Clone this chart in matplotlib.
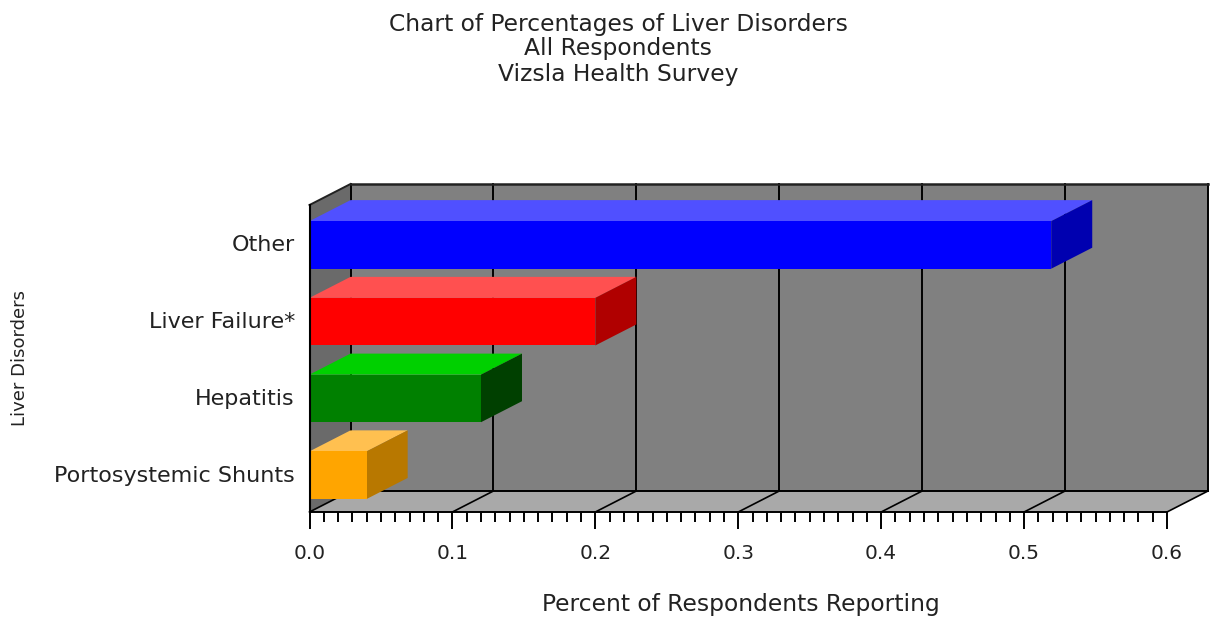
import matplotlib
matplotlib.use('Agg')
from matplotlib import pyplot as plt
from matplotlib.patches import Polygon
from matplotlib.transforms import Affine2D

plt.rcParams['font.family'] = ['DejaVu Sans']

categories = ['Portosystemic Shunts', 'Hepatitis', 'Liver Failure*', 'Other']
values = [0.04, 0.12, 0.2, 0.519]
front_colors = ['#ffa500', '#008000', '#ff0000', '#0000ff']
top_colors = ['#ffc050', '#00d000', '#ff5050', '#5050ff']
side_colors = ['#b87800', '#004000', '#b00000', '#0000b0']
title_lines = ['Chart of Percentages of Liver Disorders', 'All Respondents', 'Vizsla Health Survey']
x_ticks = [0.0, 0.1, 0.2, 0.3, 0.4, 0.5, 0.6]

W, H = 1210, 618
dx, dy = 41, 21      # depth of the fake 3d box, pixels
bar_h = 0.62
text_color = '#222222'
fig = plt.figure(figsize=(W / 100, H / 100), dpi=100)

# axes is the front plane of the box
left, right, top, bottom = 309.5, 1167, 205, 512
ax = fig.add_axes([left / W, 1 - bottom / H, (right - left) / W, (bottom - top) / H])
ax.set_xlim(0, 0.6)
ax.set_ylim(0, 4)
ax.patch.set_visible(False)
for name in ['top', 'right', 'bottom']:
    ax.spines[name].set_visible(False)
ax.spines['left'].set_linewidth(1.5)

back = Affine2D().translate(dx, dy)
to_back = ax.transData + back


def poly(points, color, trans=None, z=1, edge='none'):
    ax.add_patch(Polygon(points, closed=True, facecolor=color, edgecolor=edge, linewidth=0.8,
                         transform=trans or ax.transData, clip_on=False, zorder=z))


def shifted(x, y):
    # data point moved to the back plane, given back in data units
    return ax.transData.inverted().transform(to_back.transform((x, y)))


xmax, ymax = 0.6, 4
poly([(0, 0), (xmax, 0), (xmax, ymax), (0, ymax)], '#808080', to_back, 1)
poly([(0, 0), (xmax, 0), shifted(xmax, 0), shifted(0, 0)], '#a9a9a9', None, 1.1)
poly([(0, 0), shifted(0, 0), shifted(0, ymax), (0, ymax)], '#6a6a6a', None, 1.1)

# grid on the back wall and across the floor
for t in x_ticks:
    ax.plot([t, t], [0, ymax], color='black', lw=1.4, transform=to_back, clip_on=False, zorder=1.2)
    s = shifted(t, 0)
    ax.plot([t, s[0]], [0, s[1]], color='black', lw=1.2, clip_on=False, zorder=1.2)
ax.plot([0, xmax], [ymax, ymax], color='#222222', lw=1.8, transform=to_back, clip_on=False, zorder=1.2)
ax.plot([0, xmax], [0, 0], color='black', lw=1.4, transform=to_back, clip_on=False, zorder=1.2)
ax.plot([0, xmax], [0, 0], color='black', lw=1.4, clip_on=False, zorder=1.2)
s = shifted(0, ymax)
ax.plot([0, s[0]], [ymax, s[1]], color='#222222', lw=1.4, clip_on=False, zorder=1.2)

# bars, from the back one to the front one
positions = [i + 0.48 for i in range(len(categories))]
for i in range(len(categories) - 1, -1, -1):
    v = values[i]
    lo = positions[i] - bar_h / 2
    hi = positions[i] + bar_h / 2
    z = 2 + (len(categories) - i) * 0.1
    poly([(0, hi), (v, hi), shifted(v, hi), shifted(0, hi)], top_colors[i], None, z)
    poly([(v, lo), shifted(v, lo), shifted(v, hi), (v, hi)], side_colors[i], None, z)
    ax.barh(positions[i], v, height=bar_h, color=front_colors[i], zorder=z + 0.01)

ax.set_xticks(x_ticks)
ax.set_xticklabels(['%.1f' % t for t in x_ticks], fontsize=14.5, color=text_color)
ax.set_xticks([i / 100 for i in range(61)], minor=True)
ax.tick_params(axis='x', which='major', length=12, width=1.4, pad=11, color='black')
ax.tick_params(axis='x', which='minor', length=7, width=1.4, color='black')
ax.set_yticks([p + 0.02 for p in positions])
ax.set_yticklabels(categories, fontsize=16, color=text_color)
ax.tick_params(axis='y', length=0, pad=10.5)

for text, y in zip(title_lines, [24, 49, 75]):
    fig.text(618 / W, 1 - y / H, text, ha='center', va='center', fontsize=16.8, color=text_color)
fig.text(741 / W, 1 - 605 / H, 'Percent of Respondents Reporting', ha='center', va='center', fontsize=16.8, color=text_color)
fig.text(20 / W, 1 - 358 / H, 'Liver Disorders', ha='center', va='center', rotation=90, fontsize=13, color=text_color)

fig.savefig('out.png', dpi=100)
